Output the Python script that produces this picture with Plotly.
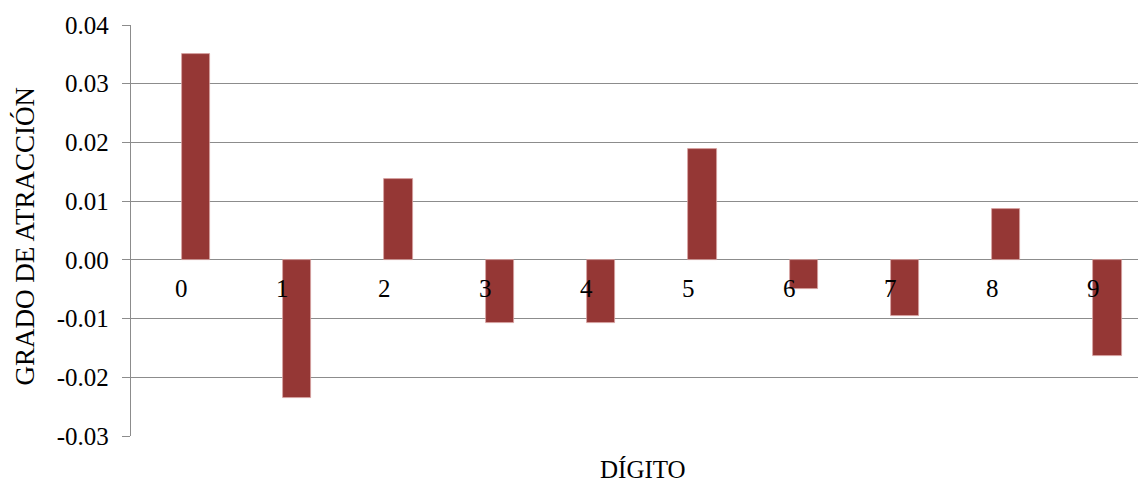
import plotly.graph_objects as go

# Grado de atracción por dígito
digitos = ["0", "1", "2", "3", "4", "5", "6", "7", "8", "9"]
grado_atraccion = [0.0350, -0.0235, 0.0137, -0.0108, -0.0107, 0.0189, -0.0050, -0.0095, 0.0086, -0.0164]

y_ticks = [-0.03, -0.02, -0.01, 0.0, 0.01, 0.02, 0.03, 0.04]
y_tick_text = ["%.2f" % v for v in y_ticks]

FONT = "Liberation Serif"
GRID = "#8c8c8c"

x_idx = list(range(len(digitos)))

fig = go.Figure()
fig.add_trace(go.Bar(
    x=x_idx,
    y=grado_atraccion,
    width=0.28,
    offset=0.0,
    marker=dict(color="#953735", line=dict(color="#d8a3a2", width=0.8)),
    showlegend=False,
))

# Category labels sit just below the zero line
for i, d in zip(x_idx, digitos):
    fig.add_annotation(x=i, y=0, xref="x", yref="y", text=d, showarrow=False,
                       yshift=-29, xanchor="center", yanchor="middle",
                       font=dict(family=FONT, size=25, color="black"))

fig.add_annotation(x=0, y=0.5, xref="paper", yref="paper", text="GRADO DE ATRACCIÓN",
                   textangle=-90, showarrow=False, xanchor="center", yanchor="middle",
                   xshift=-107, yshift=-6, font=dict(family=FONT, size=27, color="black"))
fig.add_annotation(x=0.5, y=0, xref="paper", yref="paper", text="DÍGITO",
                   showarrow=False, xanchor="center", yanchor="middle",
                   xshift=8, yshift=-33, font=dict(family=FONT, size=25, color="black"))

fig.update_layout(
    width=1138, height=487,
    margin=dict(l=131, r=0, t=25, b=51),
    paper_bgcolor="white", plot_bgcolor="white",
    font=dict(family=FONT, size=25, color="black"),
    bargap=0,
)
fig.update_xaxes(range=[-0.5, 9.44], showticklabels=False, showgrid=False,
                 zeroline=False, showline=False, ticks="")
fig.update_yaxes(range=[-0.03, 0.04], tickvals=y_ticks, ticktext=y_tick_text,
                 showgrid=True, gridcolor=GRID, gridwidth=1.3,
                 zeroline=True, zerolinecolor=GRID, zerolinewidth=1.3,
                 showline=True, linecolor=GRID, linewidth=1.3,
                 ticks="outside", ticklen=8, tickcolor=GRID, tickwidth=1.3,
                 ticklabelstandoff=8,
                 tickfont=dict(family=FONT, size=25, color="black"))

fig.write_html("out.html")
